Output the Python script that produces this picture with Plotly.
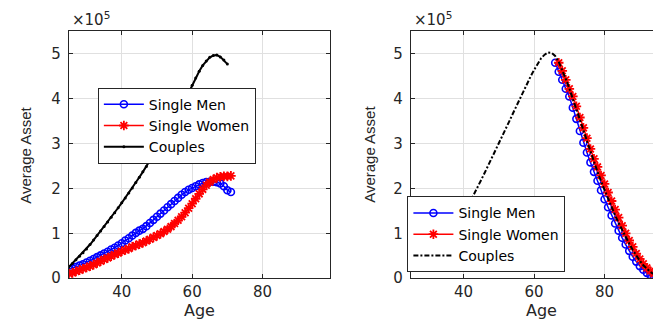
import plotly.graph_objects as go

# ---------------- data (assets in units of 1e5) ----------------
ages_left = list(range(25, 72))
men_left = [0.20, 0.22, 0.25, 0.28, 0.31, 0.35, 0.39, 0.43, 0.47, 0.51,
            0.55, 0.59, 0.64, 0.68, 0.73, 0.78, 0.84, 0.89, 0.95, 1.01,
            1.06, 1.10, 1.16, 1.23, 1.30, 1.37, 1.44, 1.51, 1.58, 1.65,
            1.72, 1.79, 1.86, 1.92, 1.97, 2.01, 2.05, 2.09, 2.12, 2.14,
            2.15, 2.15, 2.14, 2.11, 2.05, 1.96, 1.92]
women_left = [0.10, 0.12, 0.15, 0.18, 0.21, 0.24, 0.27, 0.30, 0.34, 0.38,
              0.42, 0.45, 0.49, 0.53, 0.56, 0.60, 0.63, 0.66, 0.70, 0.73,
              0.76, 0.79, 0.83, 0.87, 0.91, 0.95, 0.99, 1.04, 1.09, 1.15,
              1.22, 1.29, 1.37, 1.46, 1.56, 1.66, 1.77, 1.88, 1.98, 2.07,
              2.14, 2.20, 2.24, 2.26, 2.27, 2.27, 2.28]
ages_couples_left = list(range(25, 71))
couples_left = [0.25, 0.33, 0.41, 0.49, 0.57, 0.65, 0.75, 0.85, 0.95, 1.05,
                1.15, 1.25, 1.36, 1.46, 1.57, 1.68, 1.79, 1.90, 2.01, 2.13,
                2.25, 2.37, 2.49, 2.62, 2.75, 2.88, 3.01, 3.14, 3.27, 3.40,
                3.53, 3.67, 3.82, 3.97, 4.13, 4.30, 4.46, 4.61, 4.74, 4.84,
                4.92, 4.96, 4.97, 4.93, 4.86, 4.77]

ages_men_right = list(range(66, 100))
men_right = [4.80, 4.60, 4.42, 4.22, 4.05, 3.80, 3.55, 3.28, 3.02, 2.80,
             2.58, 2.37, 2.17, 1.96, 1.76, 1.58, 1.40, 1.22, 1.06, 0.90,
             0.75, 0.61, 0.48, 0.37, 0.27, 0.19, 0.12, 0.07, 0.04, 0.02,
             0.01, 0.005, 0.0, 0.0]
ages_women_right = list(range(67, 100))
women_right = [4.80, 4.62, 4.42, 4.22, 4.05, 3.83, 3.58, 3.35, 3.12, 2.88,
               2.66, 2.48, 2.29, 2.10, 1.91, 1.72, 1.53, 1.35, 1.17, 1.00,
               0.84, 0.70, 0.55, 0.43, 0.32, 0.23, 0.16, 0.10, 0.06, 0.035,
               0.02, 0.01, 0.0]
ages_couples_right = list(range(25, 100))
couples_right = [0.25, 0.28, 0.32, 0.36, 0.41, 0.46, 0.52, 0.59, 0.66, 0.74,
                 0.83, 0.93, 1.03, 1.13, 1.26, 1.41, 1.56, 1.71, 1.87, 2.03,
                 2.19, 2.35, 2.51, 2.67, 2.83, 2.99, 3.16, 3.33, 3.50, 3.67,
                 3.84, 4.01, 4.17, 4.33, 4.49, 4.64, 4.78, 4.90, 4.98, 5.03,
                 5.02, 4.95, 4.82, 4.64, 4.44, 4.23, 4.01, 3.78, 3.54, 3.30,
                 3.06, 2.82, 2.59, 2.37, 2.16, 1.96, 1.77, 1.58, 1.40, 1.23,
                 1.07, 0.91, 0.77, 0.63, 0.50, 0.39, 0.29, 0.21, 0.14, 0.09,
                 0.06, 0.04, 0.02, 0.01, 0.0]

x_ticks = [40, 60, 80]
y_ticks = [0, 1, 2, 3, 4, 5]
names = ["Single Men", "Single Women", "Couples"]

# ---------------- layout helpers ----------------
W, H = 661, 322
px = lambda x: x / W
py = lambda y: 1 - y / H
FONT = "DejaVu Sans"
AX = "#262626"
BLUE, RED, BLACK = "#0000FF", "#FF0000", "#000000"

fig = go.Figure()

def add_panel(xa, ya, leg, m_x, m_y, w_x, w_y, c_x, c_y, cdash, cmarker):
    fig.add_trace(go.Scatter(x=m_x, y=m_y, name=names[0], mode="lines+markers",
                             line=dict(color=BLUE, width=1.5),
                             marker=dict(symbol="circle-open", size=7, color=BLUE,
                                         line=dict(width=1.6, color=BLUE)),
                             xaxis=xa, yaxis=ya, legend=leg))
    fig.add_trace(go.Scatter(x=w_x, y=w_y, name=names[1], mode="lines+markers",
                             line=dict(color=RED, width=1.5),
                             marker=dict(symbol="asterisk-open", size=8, color=RED,
                                         line=dict(width=1.8, color=RED)),
                             xaxis=xa, yaxis=ya, legend=leg))
    fig.add_trace(go.Scatter(x=c_x, y=c_y, name=names[2],
                             mode="lines+markers" if cmarker else "lines",
                             line=dict(color=BLACK, width=2, dash=cdash),
                             marker=dict(symbol="circle", size=3, color=BLACK),
                             xaxis=xa, yaxis=ya, legend=leg))

add_panel("x", "y", "legend", ages_left, men_left, ages_left, women_left,
          ages_couples_left, couples_left, "solid", True)
add_panel("x2", "y2", "legend2", ages_men_right, men_right, ages_women_right,
          women_right, ages_couples_right, couples_right, "5px,2px,2px,2px", False)

ydom = [py(278), py(24)]

def xaxis(dom, rng, anchor):
    return dict(domain=dom, range=rng, anchor=anchor, tickvals=x_ticks,
                showline=True, linecolor=AX, linewidth=1, mirror="ticks",
                ticks="inside", ticklen=4, tickcolor=AX,
                showgrid=True, gridcolor="#e0e0e0", gridwidth=1, zeroline=False,
                tickfont=dict(family=FONT, size=15, color=AX))

def yaxis(rng, anchor):
    return dict(domain=ydom, range=rng, anchor=anchor, tickvals=y_ticks,
                showline=True, linecolor=AX, linewidth=1, mirror="ticks",
                ticks="inside", ticklen=4, tickcolor=AX, ticklabelstandoff=4,
                showgrid=True, gridcolor="#e0e0e0", gridwidth=1, zeroline=False,
                tickfont=dict(family=FONT, size=15, color=AX))

legend_common = dict(bgcolor="white", bordercolor=AX, borderwidth=1,
                     font=dict(family=FONT, size=14, color="#000"),
                     itemwidth=40, tracegroupgap=0,
                     entrywidth=178, entrywidthmode="pixels")

fig.update_layout(
    width=W, height=H, margin=dict(l=0, r=0, t=0, b=0),
    plot_bgcolor="white", paper_bgcolor="white",
    xaxis=xaxis([px(61), px(322)], [25, 99], "y"),
    yaxis=yaxis([0, 5.5], "x"),
    xaxis2=xaxis([px(403.3), 1.0], [25, 98.0], "y2"),
    yaxis2=yaxis([0, 5.5], "x2"),
    legend=dict(x=px(90), y=py(82), xanchor="left", yanchor="top", **legend_common),
    legend2=dict(x=px(400), y=py(272), xanchor="left", yanchor="bottom", **legend_common),
    showlegend=True,
)

for left, right, ytitle_x in [(61, 322, 18), (403.3, 665, 362.6)]:
    cx = (left + right) / 2
    fig.add_annotation(text="Age", x=px(cx), y=py(311), xref="paper", yref="paper",
                       xanchor="center", yanchor="middle", showarrow=False,
                       font=dict(family=FONT, size=16, color=AX))
    fig.add_annotation(text="Average Asset", x=px(ytitle_x), y=py(151), xref="paper",
                       yref="paper", xanchor="center", yanchor="middle", textangle=-90,
                       showarrow=False, font=dict(family="Liberation Sans", size=15, color=AX))
    fig.add_annotation(text="\u00d710<sup>5</sup>", x=px(left + 1), y=py(24),
                       xref="paper", yref="paper", xanchor="left", yanchor="bottom",
                       showarrow=False, font=dict(family=FONT, size=15, color=AX))

fig.write_html("out.html")
